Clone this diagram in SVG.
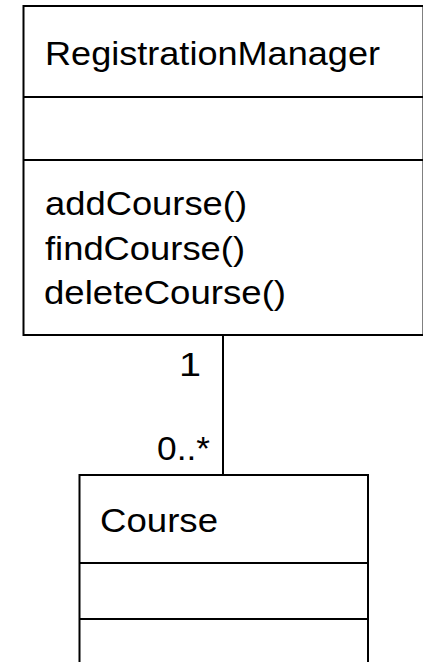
<svg xmlns="http://www.w3.org/2000/svg" width="423" height="662" viewBox="0 0 423 662">
<style>
.box{fill:#fff;stroke:#000;stroke-width:2}
.ln{stroke:#000;stroke-width:2;fill:none}
.t{font-family:"Liberation Sans",Arial,sans-serif;font-size:32.5px;fill:#000}
</style>
<rect width="423" height="662" fill="#fff"/>
<g id="RegistrationManager">
<rect class="box" x="23.5" y="6" width="400" height="329"/>
<line class="ln" x1="23.5" y1="97" x2="423.5" y2="97"/>
<line class="ln" x1="23.5" y1="160" x2="423.5" y2="160"/>
<text class="t" x="45" y="65" textLength="335" lengthAdjust="spacingAndGlyphs">RegistrationManager</text>
<text class="t" x="45" y="215" textLength="202" lengthAdjust="spacingAndGlyphs">addCourse()</text>
<text class="t" x="45" y="260" textLength="200" lengthAdjust="spacingAndGlyphs">findCourse()</text>
<text class="t" x="44" y="304" textLength="242" lengthAdjust="spacingAndGlyphs">deleteCourse()</text>
</g>
<g id="connectors">
<line class="ln" x1="223" y1="335" x2="223" y2="475"/>
<text class="t" x="179" y="376" textLength="22" lengthAdjust="spacingAndGlyphs">1</text>
<text class="t" x="157" y="460" textLength="53" lengthAdjust="spacingAndGlyphs">0..*</text>
</g>
<g id="Course">
<rect class="box" x="79.5" y="475" width="288.5" height="200"/>
<line class="ln" x1="79.5" y1="563" x2="368" y2="563"/>
<line class="ln" x1="79.5" y1="619" x2="368" y2="619"/>
<text class="t" x="100" y="532" textLength="118" lengthAdjust="spacingAndGlyphs">Course</text>
</g>
</svg>
